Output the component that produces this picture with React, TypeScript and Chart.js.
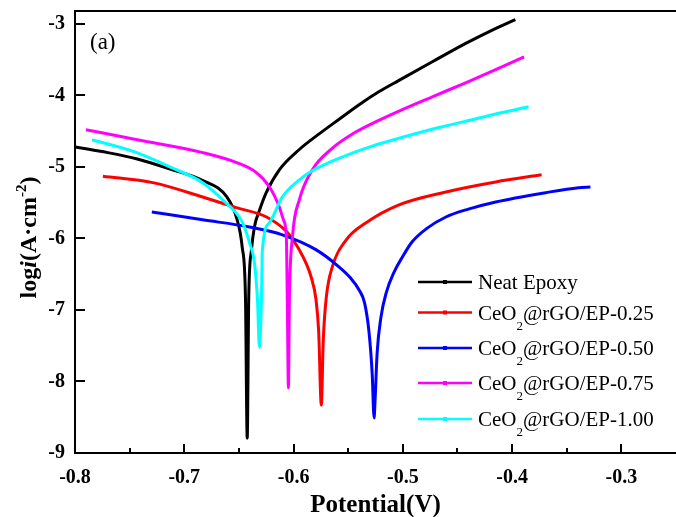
import React, { useEffect, useRef } from "react";
import { Chart, registerables } from "chart.js";

Chart.register(...registerables);

const FONT = "'Liberation Serif', 'Times New Roman', serif";

// Tick values
const X_MAJOR = [-0.8, -0.7, -0.6, -0.5, -0.4, -0.3];
const X_MINOR = [-0.75, -0.65, -0.55, -0.45, -0.35];
const Y_TICKS = [-9, -8, -7, -6, -5, -4, -3];

// Series labels & colors
const LABELS = [
  "Neat Epoxy",
  "CeO₂@rGO/EP-0.25",
  "CeO₂@rGO/EP-0.50",
  "CeO₂@rGO/EP-0.75",
  "CeO₂@rGO/EP-1.00",
];
const COLORS = ["#000000", "#ff0000", "#0000ff", "#ff00ff", "#00ffff"];

// Neat Epoxy
const neatX = [-0.8, -0.77, -0.743, -0.713, -0.683, -0.661, -0.652, -0.647, -0.644, -0.6424, -0.641, -0.6385, -0.6358, -0.631, -0.625, -0.613, -0.595, -0.575, -0.558, -0.54, -0.522, -0.5035, -0.473, -0.442, -0.42, -0.397];
const neatY = [-4.72, -4.8, -4.89, -5.03, -5.19, -5.42, -5.72, -6.12, -6.82, -8.79, -6.82, -6.16, -5.84, -5.6, -5.36, -5.04, -4.76, -4.52, -4.33, -4.13, -3.95, -3.79, -3.53, -3.27, -3.1, -2.94];

// CeO2@rGO/EP-0.25
const r25X = [-0.7745, -0.7288, -0.6832, -0.6522, -0.6248, -0.6066, -0.6, -0.5947, -0.589, -0.5835, -0.5795, -0.577, -0.5746, -0.5728, -0.57, -0.5646, -0.5518, -0.5336, -0.5035, -0.4606, -0.415, -0.373];
const r25Y = [-5.13, -5.22, -5.42, -5.57, -5.7, -5.9, -6.03, -6.16, -6.33, -6.56, -6.85, -7.3, -8.33, -7.42, -6.82, -6.4, -6.02, -5.78, -5.53, -5.35, -5.21, -5.11];

// CeO2@rGO/EP-0.50
const r50X = [-0.7297, -0.6832, -0.6403, -0.6102, -0.5792, -0.5582, -0.548, -0.54, -0.535, -0.531, -0.528, -0.5263, -0.5255, -0.5235, -0.52, -0.515, -0.508, -0.5, -0.4916, -0.478, -0.4606, -0.44, -0.415, -0.3693, -0.3392, -0.3283];
const r50Y = [-5.63, -5.74, -5.84, -5.95, -6.16, -6.4, -6.55, -6.72, -6.9, -7.3, -7.9, -8.51, -8.3, -7.6, -7.1, -6.75, -6.47, -6.25, -6.05, -5.86, -5.7, -5.59, -5.49, -5.36, -5.29, -5.28];

// CeO2@rGO/EP-0.75
const r75X = [-0.79, -0.743, -0.683, -0.652, -0.634, -0.622, -0.613, -0.609, -0.6066, -0.6057, -0.6047, -0.6038, -0.601, -0.5947, -0.5828, -0.5646, -0.545, -0.522, -0.5035, -0.473, -0.442, -0.415, -0.389];
const r75Y = [-4.48, -4.62, -4.8, -4.94, -5.08, -5.28, -5.56, -5.75, -5.98, -6.86, -8.09, -6.86, -5.98, -5.46, -5.04, -4.74, -4.53, -4.35, -4.22, -4.02, -3.82, -3.64, -3.46];

// CeO2@rGO/EP-1.00
const r100X = [-0.7845, -0.7434, -0.7133, -0.6832, -0.665, -0.6467, -0.6403, -0.6358, -0.633, -0.6312, -0.6294, -0.6285, -0.6221, -0.6102, -0.5947, -0.58, -0.5646, -0.545, -0.528, -0.5035, -0.467, -0.442, -0.415, -0.3849];
const r100Y = [-4.62, -4.8, -5.0, -5.22, -5.46, -5.78, -6.06, -6.34, -6.86, -7.52, -6.86, -6.16, -5.78, -5.42, -5.18, -5.03, -4.92, -4.8, -4.71, -4.6, -4.45, -4.36, -4.26, -4.16];

const SERIES_X = [neatX, r25X, r50X, r75X, r100X];
const SERIES_Y = [neatY, r25Y, r50Y, r75Y, r100Y];

// legend row centers (px, layout only)
const LEGEND_ROWS = [282, 312.5, 348, 383, 419];

function drawSubText(ctx: CanvasRenderingContext2D, text: string, x: number, y: number, size: number) {
  const parts = text.split("₂");
  let cx = x;
  parts.forEach((p, i) => {
    ctx.font = `${size}px ${FONT}`;
    ctx.textBaseline = "alphabetic";
    ctx.fillText(p, cx, y);
    cx += ctx.measureText(p).width;
    if (i < parts.length - 1) {
      ctx.font = `${Math.round(size * 0.62)}px ${FONT}`;
      ctx.fillText("2", cx, y + 10);
      cx += ctx.measureText("2").width;
    }
  });
}

const decorPlugin = {
  id: "decor",
  afterDraw(chart: any) {
    const ctx: CanvasRenderingContext2D = chart.ctx;
    const xs = chart.scales.x;
    const ys = chart.scales.y;
    const area = chart.chartArea;
    ctx.save();
    ctx.strokeStyle = "#000";
    ctx.fillStyle = "#000";
    ctx.lineWidth = 2;
    // top border
    ctx.beginPath();
    ctx.moveTo(area.left - 1, area.top);
    ctx.lineTo(area.right, area.top);
    ctx.stroke();
    // x ticks (inward)
    X_MAJOR.forEach((v) => {
      const px = Math.round(xs.getPixelForValue(v));
      ctx.beginPath();
      ctx.moveTo(px, area.bottom);
      ctx.lineTo(px, area.bottom - 9);
      ctx.stroke();
    });
    X_MINOR.forEach((v) => {
      const px = Math.round(xs.getPixelForValue(v));
      ctx.beginPath();
      ctx.moveTo(px, area.bottom);
      ctx.lineTo(px, area.bottom - 5);
      ctx.stroke();
    });
    Y_TICKS.forEach((v) => {
      const py = Math.round(ys.getPixelForValue(v));
      ctx.beginPath();
      ctx.moveTo(area.left, py);
      ctx.lineTo(area.left + 10, py);
      ctx.stroke();
    });
    // (a)
    ctx.font = `23px ${FONT}`;
    ctx.textBaseline = "middle";
    ctx.textAlign = "left";
    ctx.fillText("(a)", 90, 43);

    // y title: log i (A·cm^-2)
    ctx.save();
    const segs: { t: string; f: string; dy: number }[] = [
      { t: "log", f: `bold 24px ${FONT}`, dy: 0 },
      { t: "i", f: `italic bold 24px ${FONT}`, dy: 0 },
      { t: "(A·cm", f: `bold 24px ${FONT}`, dy: 0 },
      { t: "-2", f: `bold 15px ${FONT}`, dy: -10 },
      { t: ")", f: `bold 24px ${FONT}`, dy: 0 },
    ];
    let total = 0;
    segs.forEach((s) => {
      ctx.font = s.f;
      total += ctx.measureText(s.t).width;
    });
    ctx.translate(36, 237.5 + total / 2);
    ctx.rotate(-Math.PI / 2);
    ctx.textBaseline = "alphabetic";
    let cx = 0;
    segs.forEach((s) => {
      ctx.font = s.f;
      ctx.fillText(s.t, cx, s.dy);
      cx += ctx.measureText(s.t).width;
    });
    ctx.restore();

    // legend
    LABELS.forEach((lab, i) => {
      const y = LEGEND_ROWS[i];
      ctx.strokeStyle = COLORS[i];
      ctx.fillStyle = COLORS[i];
      ctx.lineWidth = 2.5;
      ctx.beginPath();
      ctx.moveTo(418, y);
      ctx.lineTo(472, y);
      ctx.stroke();
      ctx.fillRect(443, y - 2, 4, 4);
      ctx.fillStyle = "#000";
      drawSubText(ctx, lab, 478, y + 7, 21);
    });
    ctx.restore();
  },
};

export default function App() {
  const ref = useRef<HTMLCanvasElement>(null);
  useEffect(() => {
    if (!ref.current) return;
    const datasets = LABELS.map((lab, i) => ({
      label: lab,
      data: SERIES_X[i].map((x, k) => ({ x, y: SERIES_Y[i][k] })),
      borderColor: COLORS[i],
      backgroundColor: COLORS[i],
      borderWidth: 3,
      pointRadius: 0,
      showLine: true,
      cubicInterpolationMode: "monotone" as const,
      order: 5 - i,
    }));
    const chart = new Chart(ref.current, {
      type: "scatter",
      data: { datasets },
      options: {
        animation: false,
        responsive: false,
        devicePixelRatio: 1,
        layout: { padding: { top: 11, left: 0, right: 0, bottom: 0 } },
        plugins: { legend: { display: false }, tooltip: { enabled: false } },
        scales: {
          x: {
            type: "linear",
            min: -0.8,
            max: -0.25,
            afterBuildTicks: (s: any) => {
              s.ticks = X_MAJOR.map((v) => ({ value: v }));
            },
            afterFit: (s: any) => {
              s.height = 64;
              s.paddingLeft = 0;
              s.paddingRight = 0;
            },
            ticks: {
              callback: (v: any) => Number(v).toFixed(1),
              font: { family: FONT, size: 20, weight: "bold" },
              color: "#000",
              padding: 13,
              maxRotation: 0,
              autoSkip: false,
            },
            grid: { display: true, drawOnChartArea: false, drawTicks: false },
            border: { display: true, color: "#000", width: 2 },
            title: {
              display: true,
              text: "Potential(V)",
              font: { family: FONT, size: 25, weight: "bold" },
              color: "#000",
              padding: { top: 0, bottom: -4 },
            },
          },
          y: {
            type: "linear",
            min: -9,
            max: -2.82,
            afterBuildTicks: (s: any) => {
              s.ticks = Y_TICKS.map((v) => ({ value: v }));
            },
            afterFit: (s: any) => {
              s.width = 75;
              s.paddingTop = 0;
              s.paddingBottom = 0;
            },
            ticks: {
              callback: (v: any) => String(v),
              font: { family: FONT, size: 20, weight: "bold" },
              color: "#000",
              padding: 10,
              autoSkip: false,
            },
            grid: { display: true, drawOnChartArea: false, drawTicks: false },
            border: { display: true, color: "#000", width: 2 },
          },
        },
      },
      plugins: [decorPlugin],
    });
    return () => chart.destroy();
  }, []);
  return (
    <div style={{ position: "fixed", left: 0, top: 0, width: 676, height: 517, background: "#fff" }}>
      <canvas ref={ref} width={676} height={517} style={{ width: 676, height: 517, display: "block" }} />
    </div>
  );
}
